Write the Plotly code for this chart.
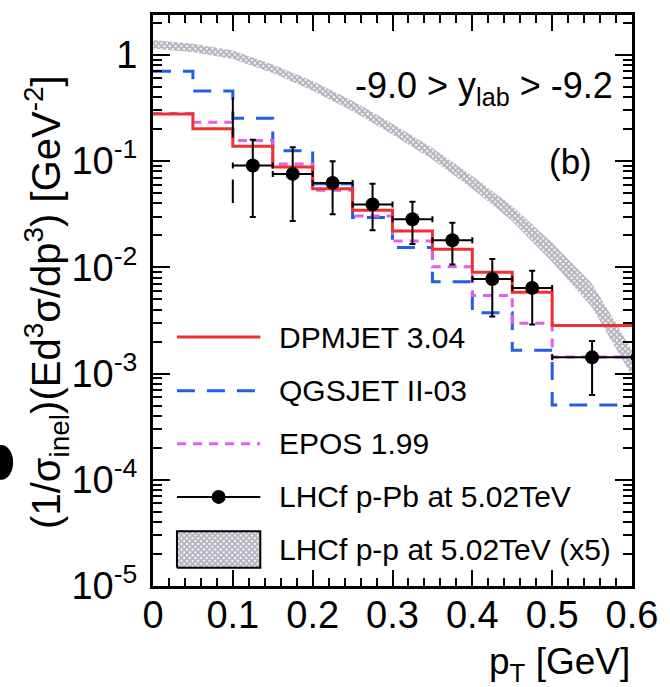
import plotly.graph_objects as go

# ---------------- data ----------------
bin_edges = [0.0, 0.05, 0.10, 0.15, 0.20, 0.25, 0.30, 0.35, 0.40, 0.45, 0.50, 0.60]
dpmjet = [0.278, 0.201, 0.138, 0.088, 0.0548, 0.0344, 0.0220, 0.0148, 0.00897, 0.00582, 0.00284]
qgsjet = [0.700, 0.457, 0.253, 0.125, 0.0610, 0.0295, 0.0154, 0.00733, 0.00373, 0.00166, 0.000506]
epos = [0.280, 0.232, 0.156, 0.094, 0.0530, 0.0304, 0.0177, 0.0101, 0.00542, 0.00298, 0.00143]

data_pt = [0.125, 0.175, 0.225, 0.275, 0.325, 0.375, 0.425, 0.475, 0.55]
data_xerr = [0.025, 0.025, 0.025, 0.025, 0.025, 0.025, 0.025, 0.025, 0.05]
data_val = [0.0907, 0.0757, 0.0623, 0.0391, 0.0283, 0.0180, 0.00777, 0.0064, 0.00142]
data_hi = [0.159, 0.1346, 0.0995, 0.0611, 0.0414, 0.0263, 0.0120, 0.0093, 0.00202]
data_lo = [0.0298, 0.0273, 0.0316, 0.0223, 0.0166, 0.0106, 0.00345, 0.0029, 0.000628]

# black dashed edge at pT = 0.1
edge_x = [0.1, 0.1]
edge_y = [0.396, 0.0403]

# LHCf p-p (x5) band
band_pt = [0.0, 0.05, 0.10, 0.15, 0.20, 0.25, 0.30, 0.35, 0.40, 0.45, 0.50, 0.55, 0.575, 0.60]
band_hi = [1.38, 1.27, 1.096, 0.81, 0.566, 0.37, 0.224, 0.1326, 0.0724, 0.0376, 0.0170, 0.0070, 0.00343, 0.00165]
band_lo = [1.15, 1.06, 0.912, 0.675, 0.46, 0.294, 0.178, 0.1032, 0.0548, 0.0272, 0.0112, 0.00418, 0.00197, 0.00095]

x_tickvals = [0, 0.1, 0.2, 0.3, 0.4, 0.5, 0.6]
x_ticktext = ["0", "0.1", "0.2", "0.3", "0.4", "0.5", "0.6"]
y_tickvals = [1e-5, 1e-4, 1e-3, 1e-2, 1e-1, 1]
y_ticktext = ["10<sup>-5</sup>", "10<sup>-4</sup>", "10<sup>-3</sup>", "10<sup>-2</sup>", "10<sup>-1</sup>", "1"]

legend_labels = ["DPMJET 3.04", "QGSJET II-03", "EPOS 1.99",
                 "LHCf p-Pb at 5.02TeV", "LHCf p-p at 5.02TeV (x5)"]

# ---------------- style ----------------
RED = "#f03030"
BLUE = "#1f5fe6"
MAG = "#e15ee8"
BAND = "#6a6a80"
FONT = "Liberation Sans"

fig = go.Figure()

band_pattern = dict(shape="x", fgcolor=BAND, bgcolor="rgba(255,255,255,0)", size=4, solidity=0.75)

# band
fig.add_trace(go.Scatter(
    x=band_pt + band_pt[::-1], y=band_hi + band_lo[::-1],
    mode="lines", fill="toself", line=dict(width=0, color=BAND),
    fillcolor="rgba(255,255,255,0)", fillpattern=band_pattern,
    hoverinfo="skip", showlegend=False))

def step(vals):
    return vals + [vals[-1]]

fig.add_trace(go.Scatter(x=bin_edges, y=step(qgsjet), mode="lines", line_shape="hv",
                         line=dict(color=BLUE, width=3, dash="18px,12px"), showlegend=False))
fig.add_trace(go.Scatter(x=bin_edges, y=step(epos), mode="lines", line_shape="hv",
                         line=dict(color=MAG, width=3, dash="9px,7px"), showlegend=False))
fig.add_trace(go.Scatter(x=bin_edges, y=step(dpmjet), mode="lines", line_shape="hv",
                         line=dict(color=RED, width=3), showlegend=False))
fig.add_trace(go.Scatter(x=edge_x, y=edge_y, mode="lines",
                         line=dict(color="black", width=2, dash="40px,42px"), showlegend=False))

fig.add_trace(go.Scatter(
    x=data_pt, y=data_val, mode="markers",
    marker=dict(color="black", size=14, symbol="circle"),
    error_x=dict(type="data", array=data_xerr, color="black", thickness=2, width=3),
    error_y=dict(type="data", array=[h - v for h, v in zip(data_hi, data_val)],
                 arrayminus=[v - l for v, l in zip(data_val, data_lo)],
                 color="black", thickness=2, width=3),
    showlegend=False))

# ---------------- legend (drawn on overlay axes in plot-fraction units) ----------------
lx0, lx1, lxm, ltext = 0.050, 0.224, 0.137, 0.258
rows = [0.436, 0.342, 0.249, 0.156, 0.064]
styles = [dict(color=RED, width=3), dict(color=BLUE, width=3, dash="18px,12px"),
          dict(color=MAG, width=3, dash="9px,7px"), dict(color="black", width=2)]
for r, st in zip(rows[:4], styles):
    fig.add_trace(go.Scatter(x=[lx0, lx1], y=[r, r], mode="lines", line=st,
                             xaxis="x2", yaxis="y2", showlegend=False, hoverinfo="skip"))
fig.add_trace(go.Scatter(x=[lxm], y=[rows[3]], mode="markers", marker=dict(color="black", size=14),
                         xaxis="x2", yaxis="y2", showlegend=False, hoverinfo="skip"))
by0, by1 = rows[4] - 0.032, rows[4] + 0.032
fig.add_trace(go.Scatter(
    x=[lx0, lx1, lx1, lx0, lx0], y=[by0, by0, by1, by1, by0], mode="lines", fill="toself",
    line=dict(color="black", width=2), fillcolor="rgba(255,255,255,0)", fillpattern=band_pattern,
    xaxis="x2", yaxis="y2", showlegend=False, hoverinfo="skip"))

annotations = []
for r, lab in zip(rows, legend_labels):
    annotations.append(dict(x=ltext, y=r, xref="paper", yref="paper", text=lab, showarrow=False,
                            xanchor="left", yanchor="middle", font=dict(family=FONT, size=30, color="black")))

annotations += [
    dict(x=0.965, y=0.872, xref="paper", yref="paper", showarrow=False, xanchor="right", yanchor="middle",
         text="-9.0 &gt; y<sub>lab</sub> &gt; -9.2", font=dict(family=FONT, size=36, color="black")),
    dict(x=0.872, y=0.743, xref="paper", yref="paper", showarrow=False, xanchor="center", yanchor="middle",
         text="(b)", font=dict(family=FONT, size=35, color="black")),
    dict(x=1.0, y=-0.137, xref="paper", yref="paper", showarrow=False, xanchor="right", yanchor="middle",
         text="p<sub>T</sub> [GeV]", font=dict(family=FONT, size=37, color="black")),
    dict(x=-0.222, y=0.497, xref="paper", yref="paper", showarrow=False, xanchor="center", yanchor="middle",
         textangle=-90, text="(1/σ<sub>inel</sub>)(Ed<sup>3</sup>σ/dp<sup>3</sup>) [GeV<sup>-2</sup>]",
         font=dict(family=FONT, size=40, color="black")),
]

y_minor = [k * 10.0 ** e for e in range(-5, 1) for k in range(2, 10)]

axis_common = dict(showline=True, linewidth=3, linecolor="black", mirror="ticks",
                   ticks="inside", tickwidth=2, tickcolor="black", showgrid=False, zeroline=False,
                   tickfont=dict(family=FONT, size=38, color="black"))

fig.update_layout(
    width=670, height=687,
    margin=dict(l=153, r=34, t=13, b=101),
    paper_bgcolor="white", plot_bgcolor="white",
    xaxis=dict(range=[0, 0.6], tickmode="array", tickvals=x_tickvals, ticktext=x_ticktext, ticklen=16,
               ticklabelstandoff=-7,
               minor=dict(ticks="inside", ticklen=8, dtick=0.02, tick0=0, tickwidth=2, tickcolor="black"),
               **axis_common),
    yaxis=dict(type="log", range=[-5, 0.375], tickmode="array", tickvals=y_tickvals, ticktext=y_ticktext,
               ticklen=17, ticklabelstandoff=5,
               minor=dict(ticks="inside", ticklen=9, tickmode="array", tickvals=y_minor,
                          tickwidth=2, tickcolor="black"),
               **axis_common),
    xaxis2=dict(overlaying="x", range=[0, 1], visible=False, anchor="y2"),
    yaxis2=dict(overlaying="y", range=[0, 1], visible=False, anchor="x2"),
    annotations=annotations,
    shapes=[dict(type="circle", xref="paper", yref="paper", x0=-0.342, x1=-0.292, y0=0.186, y1=0.247,
                 fillcolor="black", line=dict(width=0))],
    showlegend=False,
)

fig.write_html("out.html")
